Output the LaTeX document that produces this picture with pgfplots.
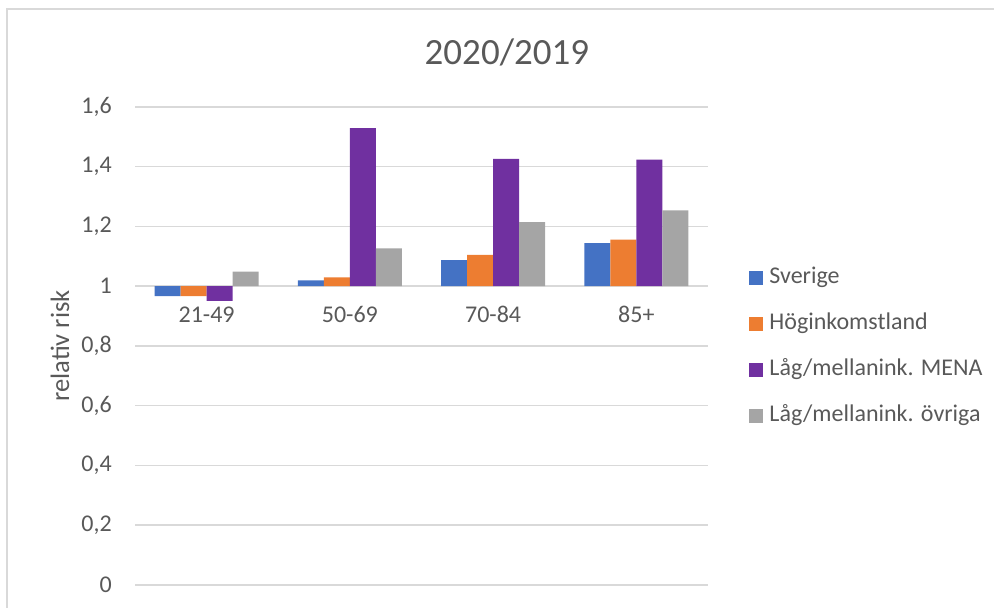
\documentclass[border=0pt]{standalone}
\usepackage{fontspec}
\setmainfont{Carlito}
\usepackage{pgfplots}
\usepackage{pgfplotstable}
\pgfplotsset{compat=1.18}
\definecolor{cS}{HTML}{4472C4}
\definecolor{cH}{HTML}{ED7D31}
\definecolor{cM}{HTML}{7030A0}
\definecolor{cO}{HTML}{A5A5A5}
\definecolor{txt}{HTML}{595959}
\definecolor{grd}{HTML}{D9D9D9}
\pgfplotstableread{
x S H M O
0 0.967 0.967 0.951 1.049
1 1.020 1.030 1.529 1.127
2 1.087 1.105 1.426 1.215
3 1.144 1.156 1.424 1.254
}\data
\begin{document}
\begin{tikzpicture}
\path[use as bounding box] (0,0) rectangle (497pt,304pt);
\draw[grd, line width=0.75pt] (3.5pt,0) -- (3.5pt,299.5pt) -- (497pt,299.5pt);
\begin{axis}[
  at={(67.5pt,11.5pt)}, anchor=south west,
  scale only axis, width=286.5pt, height=239pt,
  xmin=-0.5, xmax=3.5, ymin=-1, ymax=0.6,
  axis x line=middle, axis y line=left,
  axis line style={draw=none},
  tick style={draw=none},
  ymajorgrids, grid style={grd, line width=0.75pt},
  ytick={-1,-0.8,-0.6,-0.4,-0.2,0,0.2,0.4,0.6},
  yticklabels={0,{0,2},{0,4},{0,6},{0,8},1,{1,2},{1,4},{1,6}},
  xtick={0,1,2,3},
  xticklabels={21-49,50-69,70-84,85+},
  ticklabel style={font=\fontsize{12}{14}\selectfont, text=txt},
  yticklabel style={xshift=-6pt},
  xticklabel style={anchor=center, yshift=-10pt, inner sep=0pt},
  ylabel={relativ risk},
  ylabel style={at={(axis description cs:-0.131,0.5)}, anchor=center, font=\fontsize{13.3}{15}\selectfont, text=txt},
  title={2020/2019},
  title style={at={(axis description cs:0.649,1.09)}, anchor=center, font=\fontsize{18.5}{22}\selectfont, text=txt},
  ybar=0pt, bar width=0.1815,
  legend style={at={(axis description cs:1.0716,0.669)}, anchor=north west, draw=none, fill=none, inner sep=0pt,
    font=\fontsize{12}{14}\selectfont, text=txt, row sep=11pt,
    nodes={inner sep=0pt, text height=9pt, text depth=3pt, anchor=west}},
  legend cell align=left,
  legend image code/.code={\fill[#1] (0pt,-3.5pt) rectangle (7pt,3.5pt); \path (10pt,0pt);},
]
\addplot[fill=cS, draw=none, bar shift=-0.27225] table[x=x, y expr=\thisrow{S}-1]{\data};
\addplot[fill=cH, draw=none, bar shift=-0.09075] table[x=x, y expr=\thisrow{H}-1]{\data};
\addplot[fill=cM, draw=none, bar shift=0.09075] table[x=x, y expr=\thisrow{M}-1]{\data};
\addplot[fill=cO, draw=none, bar shift=0.27225] table[x=x, y expr=\thisrow{O}-1]{\data};
\legend{Sverige, Höginkomstland, Låg/mellanink. MENA, Låg/mellanink. övriga}
\end{axis}
\end{tikzpicture}
\end{document}
